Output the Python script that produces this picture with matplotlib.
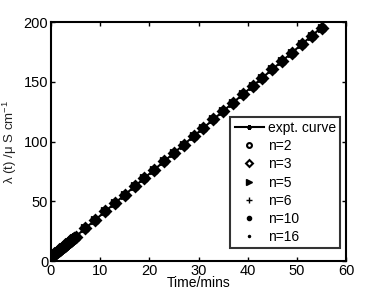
import numpy as np
import matplotlib
matplotlib.use('Agg')
from matplotlib import pyplot as plt

plt.rcParams['font.family'] = ['Liberation Sans', 'DejaVu Sans']
plt.rcParams['mathtext.fontset'] = 'custom'
plt.rcParams['mathtext.rm'] = 'Liberation Sans'
plt.rcParams['mathtext.it'] = 'Liberation Sans:italic'

# time points (minutes)
t = [0, 0.25, 0.5, 0.75, 1, 1.25, 1.5, 1.75, 2, 2.25, 2.5, 2.75, 3, 3.25, 3.5,
     3.75, 4, 4.25, 4.5, 4.75, 5,
     7, 9, 11, 13, 15, 17, 19, 21, 23, 25, 27, 29, 31, 33, 35, 37, 39, 41, 43,
     45, 47, 49, 51, 53, 55]
# conductivity (uS/cm)
lam = [3.0, 3.9, 4.8, 5.6, 6.5, 7.4, 8.3, 9.1, 10.0, 10.9, 11.8, 12.6, 13.5,
       14.4, 15.3, 16.1, 17.0, 17.9, 18.8, 19.6, 20.5,
       27.5, 34.5, 41.5, 48.5, 55.5, 62.5, 69.5, 76.5, 83.5, 90.5, 97.5, 104.5,
       111.5, 118.5, 125.5, 132.5, 139.5, 146.5, 153.5, 160.5, 167.5, 174.5,
       181.5, 188.5, 195.5]

labels = ['expt. curve', 'n=2', 'n=3', 'n=5', 'n=6', 'n=10', 'n=16']

fig = plt.figure(figsize=(3.82, 2.95), dpi=100)
ax = fig.add_axes([0.1335, 0.115, 0.7725, 0.81])

ax.plot(t, lam, '-', color='k', lw=1.5, marker=(6, 2, 0), ms=5, mew=1.2, label=labels[0])
ax.plot(t, lam, 'o', mfc='none', mec='k', ms=5, mew=2, ls='none', label=labels[1])
ax.plot(t, lam, 'D', mfc='none', mec='k', ms=5, mew=2, ls='none', label=labels[2])
ax.plot(t, lam, '>', color='k', ms=6, ls='none', label=labels[3])
ax.plot(t, lam, '+', color='k', ms=6, mew=2, ls='none', label=labels[4])
ax.plot(t, lam, '.', color='k', ms=9, ls='none', label=labels[5])
ax.plot(t, lam, '.', color='k', ms=3, ls='none', label=labels[6])

ax.set_xlim(0, 60)
ax.set_ylim(0, 200)
ax.set_xticks([0, 10, 20, 30, 40, 50, 60])
ax.set_yticks([0, 50, 100, 150, 200])
ax.tick_params(direction='in', top=True, right=True, labelsize=10.5, length=3, width=1, pad=2)
for s in ax.spines.values():
    s.set_linewidth(1.5)

ax.set_xlabel('Time/mins', fontsize=10, labelpad=-1)
ax.set_ylabel('λ (t) /μ S cm$^{-1}$', fontsize=9.5, color='#222222', labelpad=3)

leg = ax.legend(loc='lower right', bbox_to_anchor=(0.98, 0.054), fontsize=10,
                frameon=True, fancybox=False, edgecolor='k', borderpad=0.3,
                labelspacing=0.3, handlelength=2.1, handletextpad=0.3,
                borderaxespad=0)
leg_sizes = [3, 3.5, 3.5, 4.5, 4.5, 6, 2]
for h, s in zip(leg.legend_handles, leg_sizes):
    h.set_markersize(s)
    h.set_markeredgewidth(1.5 if s < 4.5 else 1.0)
leg.get_frame().set_linewidth(1.5)

fig.savefig('out.png', dpi=100)
